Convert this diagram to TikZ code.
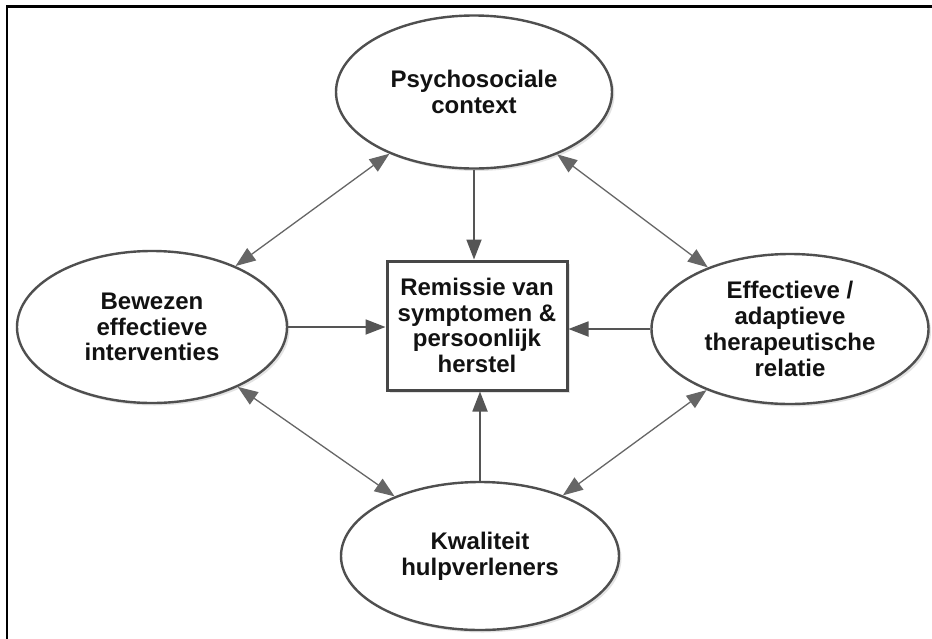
\documentclass[tikz,border=0pt]{standalone}
\usepackage{fontspec}
\setmainfont{Liberation Sans}
\usetikzlibrary{shapes.geometric,arrows.meta,shadows}
\definecolor{linegray}{HTML}{4F4F4F}
\definecolor{boxgray}{HTML}{474747}
\definecolor{arrowgray}{HTML}{555555}
\definecolor{diaggray}{HTML}{666666}
\definecolor{textblack}{HTML}{121212}
\tikzset{
  labelfont/.style={font=\bfseries\fontsize{24}{25.8}\selectfont, text=textblack, align=center},
  bubble/.style={ellipse, draw=linegray, line width=2.4pt, fill=white, inner sep=0pt, labelfont,
    drop shadow={opacity=0.22, shadow xshift=2.5pt, shadow yshift=-2.5pt}},
  centerbox/.style={rectangle, draw=boxgray, line width=3pt, fill=white, inner sep=0pt, labelfont,
    drop shadow={opacity=0.22, shadow xshift=2.5pt, shadow yshift=-2.5pt}},
  onearrow/.style={draw=arrowgray, line width=1.8pt, -{Triangle[length=20pt,width=15pt]}},
  twoarrow/.style={draw=diaggray, line width=1.3pt, {Triangle[length=20pt,width=15pt]}-{Triangle[length=20pt,width=15pt]}},
  frameline/.style={draw=black, line width=2.5pt}
}
\begin{document}
\begin{tikzpicture}[x=1pt,y=-1pt]
\useasboundingbox (0,0) rectangle (932,638);
\fill[white] (0,0) rectangle (932,638);
\draw[frameline] (7,640) -- (7,6.5) -- (934,6.5);

\node[bubble, minimum width=276pt, minimum height=153pt] (ctx) at (474,92) {Psychosociale\\context};
\node[bubble, minimum width=270pt, minimum height=152pt] (int) at (152,327) {Bewezen\\effectieve\\interventies};
\node[bubble, minimum width=277pt, minimum height=150pt] (rel) at (790,329) {Effectieve /\\adaptieve\\therapeutische\\relatie};
\node[bubble, minimum width=278pt, minimum height=148pt] (hulp) at (480,556) {Kwaliteit\\hulpverleners};
\node[centerbox, minimum width=180pt, minimum height=129pt] (rem) at (477,325.5) {Remissie van\\symptomen \&\\persoonlijk\\herstel};

\draw[onearrow] (ctx.south) -- (ctx.south |- rem.north);
\draw[onearrow] (hulp.north) -- (hulp.north |- rem.south);
\draw[onearrow] (int.east) -- (int.east -| rem.west);
\draw[onearrow] (rel.west) -- (rel.west -| rem.east);

\draw[twoarrow] (int) -- (ctx);
\draw[twoarrow] (ctx) -- (rel);
\draw[twoarrow] (int) -- (hulp);
\draw[twoarrow] (hulp) -- (rel);
\end{tikzpicture}
\end{document}
